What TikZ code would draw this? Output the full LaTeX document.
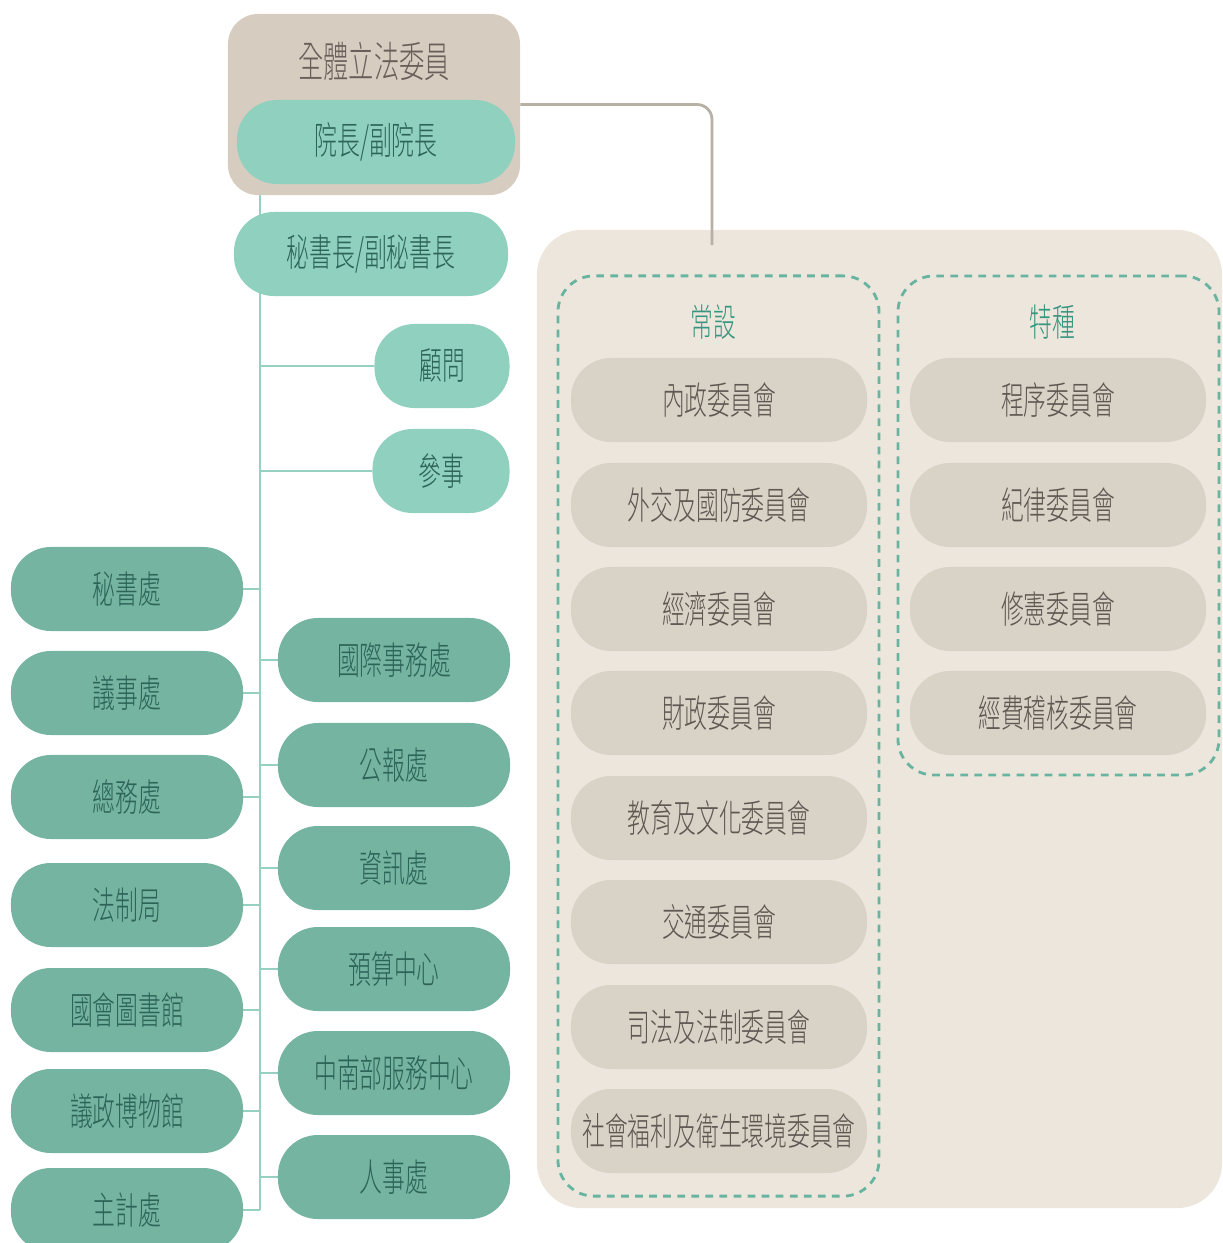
\documentclass[tikz,border=0pt]{standalone}
\usepackage{fontspec}
\usepackage{tikz}
\usetikzlibrary{backgrounds}
\IfFontExistsTF{Noto Sans CJK TC Light}
  {\newfontfamily\cjk[FakeStretch=0.6]{Noto Sans CJK TC Light}}
  {\newfontfamily\cjk[FakeStretch=0.6]{Noto Sans CJK TC}}
\definecolor{membertan}{RGB}{214,205,192}
\definecolor{membertext}{RGB}{105,95,90}
\definecolor{lightteal}{RGB}{143,208,191}
\definecolor{darkteal}{RGB}{116,180,160}
\definecolor{tealtext}{RGB}{45,100,88}
\definecolor{spineteal}{RGB}{150,208,192}
\definecolor{linkgray}{RGB}{185,176,165}
\definecolor{panelbeige}{RGB}{236,230,220}
\definecolor{cmtfill}{RGB}{216,210,199}
\definecolor{cmttext}{RGB}{95,88,82}
\definecolor{dashteal}{RGB}{105,180,160}
\definecolor{headteal}{RGB}{55,150,128}

\tikzset{
  pill/.style={rounded corners=1cm, minimum height=2.1cm, inner sep=0pt,
    font=\cjk\fontsize{27}{30}\selectfont},
  officelight/.style={pill, fill=lightteal, text=tealtext},
  officedark/.style={pill, fill=darkteal, text=tealtext, minimum width=5.8cm},
  cmtbox/.style={pill, fill=cmtfill, text=cmttext, minimum width=7.4cm},
  spine/.style={draw=spineteal, line width=2pt},
  groupbox/.style={draw=dashteal, line width=2pt, dash pattern=on 5.5pt off 4.5pt,
    rounded corners=0.9cm, minimum width=8.025cm, inner sep=0pt},
  grouphead/.style={text=headteal, font=\cjk\fontsize{27}{30}\selectfont},
}

\begin{document}
\begin{tikzpicture}[x=0.025cm, y=-0.025cm]
    \useasboundingbox (0,0) rectangle (1223,1243);

    %% Committees panel
    \node[fill=panelbeige, rounded corners=1.125cm, minimum width=17.125cm, minimum height=24.45cm] (panel) at (879.5,719) {};
    \node[groupbox, minimum height=23cm] (standing) at (718.5,736) {};
    \node[groupbox, minimum height=12.475cm] (special) at (1058.5,525.5) {};
    \node[grouphead] (standinghead) at (713,322) {常設};
    \node[grouphead] (specialhead) at (1052,322) {特種};

    %% Standing committees
    \node[cmtbox] (std1) at (719,400) {內政委員會};
    \node[cmtbox] (std2) at (719,505) {外交及國防委員會};
    \node[cmtbox] (std3) at (719,609) {經濟委員會};
    \node[cmtbox] (std4) at (719,713) {財政委員會};
    \node[cmtbox] (std5) at (719,818) {教育及文化委員會};
    \node[cmtbox] (std6) at (719,922) {交通委員會};
    \node[cmtbox] (std7) at (719,1027) {司法及法制委員會};
    \node[cmtbox] (std8) at (719,1131) {社會福利及衛生環境委員會};

    %% Special committees
    \node[cmtbox] (spc1) at (1058,400) {程序委員會};
    \node[cmtbox] (spc2) at (1058,505) {紀律委員會};
    \node[cmtbox] (spc3) at (1058,609) {修憲委員會};
    \node[cmtbox] (spc4) at (1058,713) {經費稽核委員會};

    %% Legislators and leadership
    \node[fill=membertan, rounded corners=0.75cm, minimum width=7.3cm, minimum height=4.525cm] (members) at (374,104.5) {};
    \node[text=membertext, font=\cjk\fontsize{30}{32}\selectfont] (memberstitle) at (374,62) {全體立法委員};
    \node[officelight, minimum width=6.95cm] (speaker) at (376,142) {院長/副院長};
    \node[officelight, minimum width=6.85cm] (secgen) at (371,254) {秘書長/副秘書長};
    \node[officelight, minimum width=3.375cm] (guwen) at (442,366) {顧問};
    \node[officelight, minimum width=3.425cm] (canshi) at (441,471) {參事};

    %% Link to the committees
    \coordinate (panelin) at (712,245);
    \draw[linkgray, line width=2pt, rounded corners=0.375cm] (members.east) -| (panelin);

    %% Offices, left column
    \node[officedark] (mishu) at (127,589) {秘書處};
    \node[officedark] (yishi) at (127,693) {議事處};
    \node[officedark] (zongwu) at (127,797) {總務處};
    \node[officedark] (fazhi) at (127,905) {法制局};
    \node[officedark] (tushu) at (127,1010) {國會圖書館};
    \node[officedark] (bowu) at (127,1111) {議政博物館};
    \node[officedark] (zhuji) at (127,1210) {主計處};

    %% Offices, right column
    \node[officedark] (guoji) at (394,660) {國際事務處};
    \node[officedark] (gongbao) at (394,765) {公報處};
    \node[officedark] (zixun) at (394,868) {資訊處};
    \node[officedark] (yusuan) at (394,969) {預算中心};
    \node[officedark] (zhongnan) at (394,1073) {中南部服務中心};
    \node[officedark] (renshi) at (394,1177) {人事處};

    %% Spine and branches
    \coordinate (spinetop) at (260,195);
    \begin{scope}[on background layer]
      \draw[spine] (spinetop) -- (zhuji.east -| spinetop);
      \draw[spine] (guwen.west -| spinetop) -- (guwen.west);
      \draw[spine] (canshi.west -| spinetop) -- (canshi.west);
      \draw[spine] (mishu.east) -- (mishu.east -| spinetop);
      \draw[spine] (yishi.east) -- (yishi.east -| spinetop);
      \draw[spine] (zongwu.east) -- (zongwu.east -| spinetop);
      \draw[spine] (fazhi.east) -- (fazhi.east -| spinetop);
      \draw[spine] (tushu.east) -- (tushu.east -| spinetop);
      \draw[spine] (bowu.east) -- (bowu.east -| spinetop);
      \draw[spine] (zhuji.east) -- (zhuji.east -| spinetop);
      \draw[spine] (guoji.west -| spinetop) -- (guoji.west);
      \draw[spine] (gongbao.west -| spinetop) -- (gongbao.west);
      \draw[spine] (zixun.west -| spinetop) -- (zixun.west);
      \draw[spine] (yusuan.west -| spinetop) -- (yusuan.west);
      \draw[spine] (zhongnan.west -| spinetop) -- (zhongnan.west);
      \draw[spine] (renshi.west -| spinetop) -- (renshi.west);
    \end{scope}
\end{tikzpicture}
\end{document}
